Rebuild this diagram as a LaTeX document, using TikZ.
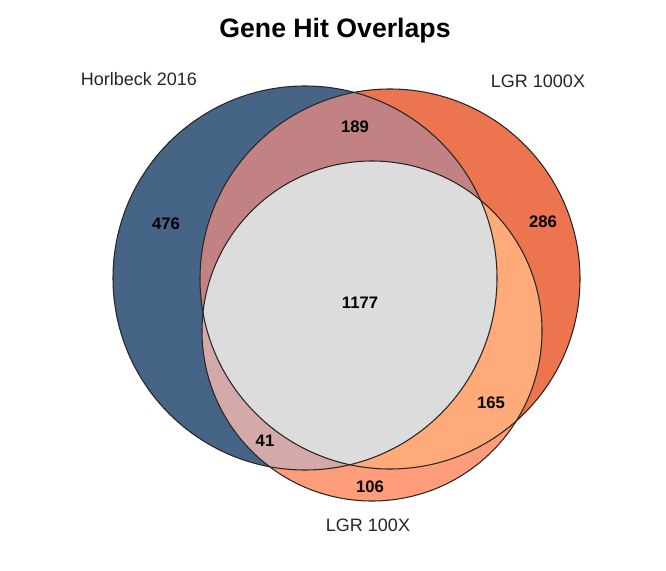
\documentclass[tikz,border=0pt]{standalone}
\usepackage{fontspec}
\setmainfont{Liberation Sans}
\begin{document}
\begin{tikzpicture}[x=0.75pt,y=-0.75pt,
  num/.style={font=\bfseries\fontsize{12.5}{14}\selectfont},
  lab/.style={font=\fontsize{13.5}{16}\selectfont,text=black!85},
  ring/.style={draw=black!85,line width=0.8pt}]
\useasboundingbox (0,0) rectangle (666,570);
\definecolor{cblue}{HTML}{466486}
\definecolor{corange}{HTML}{EC7550}
\definecolor{cmauve}{HTML}{C28284}
\definecolor{csalmon}{HTML}{FF9C7A}
\definecolor{cpeach}{HTML}{FFAA78}
\definecolor{cpink}{HTML}{D3A9AA}
\definecolor{cgrey}{HTML}{DCDCDC}
\def\B{(305,278) circle[radius=192]}
\def\O{(390,279) circle[radius=190]}
\def\I{(372,331) circle[radius=170]}
\fill[cblue] \B;
\fill[corange] \O;
\begin{scope}\clip \B; \fill[cmauve] \O; \end{scope}
\fill[csalmon] \I;
\begin{scope}\clip \I; \fill[cpeach] \O; \end{scope}
\begin{scope}\clip \I; \fill[cpink] \B; \end{scope}
\begin{scope}\clip \I; \clip \B; \fill[cgrey] \O; \end{scope}
\draw[ring] \B; \draw[ring] \O; \draw[ring] \I;
\node[font=\bfseries\fontsize{20}{24}\selectfont] (title) at (335,31) {Gene Hit Overlaps};
\node[lab] (h) at (139,79) {Horlbeck 2016};
\node[lab] (l1) at (538,81) {LGR 1000X};
\node[lab] (l2) at (368,525) {LGR 100X};
\node[num] (n189) at (355,127) {189};
\node[num] (n476) at (166,224) {476};
\node[num] (n286) at (543,222) {286};
\node[num] (n1177) at (360,303) {1177};
\node[num] (n165) at (491,403) {165};
\node[num] (n41) at (265,441) {41};
\node[num] (n106) at (370,487) {106};
\end{tikzpicture}
\end{document}
